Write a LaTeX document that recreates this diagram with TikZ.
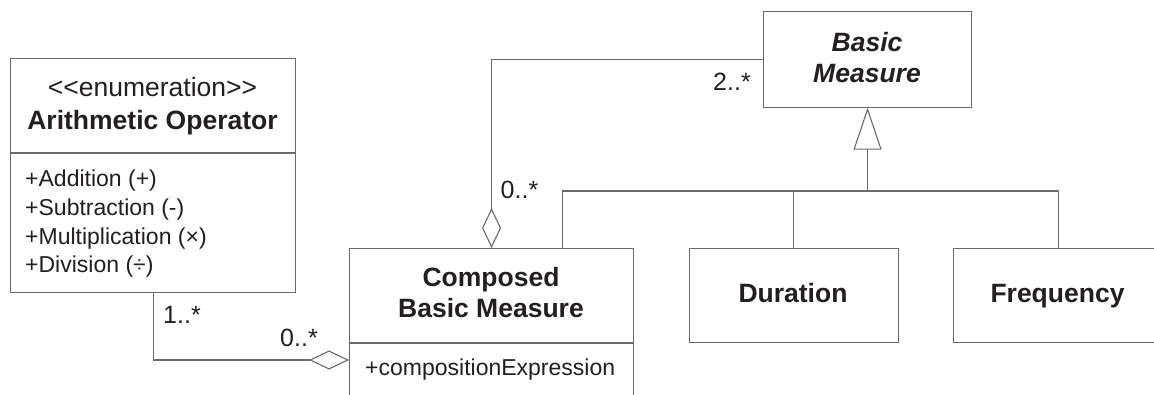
\documentclass[tikz,border=0pt]{standalone}
\usepackage{fontspec}
\setmainfont{Liberation Sans}
\usetikzlibrary{arrows.meta}
\definecolor{linec}{HTML}{6A6A6A}
\definecolor{ink}{HTML}{231F20}
\begin{document}
\begin{tikzpicture}[x=1pt,y=-1pt,
  umlbox/.style={draw=linec,line width=1.1pt,fill=white,rectangle,inner sep=0pt,anchor=north west},
  conn/.style={draw=linec,line width=1.1pt},
  agg/.style={conn,-{Diamond[open,length=40pt,width=19pt]}},
  gen/.style={conn,-{Triangle[open,length=42pt,width=28pt]}},
  txt/.style={inner sep=0pt,text=ink,anchor=base,font=\fontsize{26.5}{32}\selectfont},
  ltxt/.style={inner sep=0pt,text=ink,anchor=base west,font=\fontsize{23}{28}\selectfont},
  btxt/.style={txt,font=\fontsize{26.5}{32}\selectfont\bfseries},
  bitxt/.style={txt,font=\fontsize{26.5}{32}\selectfont\bfseries\itshape},
  mult/.style={inner sep=0pt,text=ink,anchor=base west,font=\fontsize{25}{30}\selectfont}]
\useasboundingbox (0,0) rectangle (1154,394);
\clip (0,0) rectangle (1154,394);
\fill[white] (0,0) rectangle (1154,394);

% enumeration
\node[umlbox,minimum width=285pt,minimum height=234pt] (ao) at (10,58) {};
\draw[conn] (ao.west |- 0,153) -- (ao.east |- 0,153);
\node[txt] (aost) at (152.5,96.5) {<{}<enumeration>{}>};
\node[btxt] (aoname) at (152.5,129) {Arithmetic Operator};
\node[ltxt] (a1) at (25,186.5) {+Addition (+)};
\node[ltxt] (a2) at (25,215.5) {+Subtraction (-)};
\node[ltxt] (a3) at (25,244) {+Multiplication (×)};
\node[ltxt] (a4) at (25,272) {+Division (÷)};

% composed basic measure
\node[umlbox,minimum width=284pt,minimum height=200pt] (comp) at (349,248) {};
\draw[conn] (comp.west |- 0,343) -- (comp.east |- 0,343);
\node[btxt] (c1) at (491,286.5) {Composed};
\node[btxt] (c2) at (491,317) {Basic Measure};
\node[ltxt] (cattr) at (365,375) {+compositionExpression};

% abstract basic measure
\node[umlbox,minimum width=208pt,minimum height=95.5pt] (bm) at (763,11) {};
\node[bitxt] (bm1) at (867,51) {Basic};
\node[bitxt] (bm2) at (867,82) {Measure};

% subclasses
\node[umlbox,minimum width=209pt,minimum height=94pt] (dur) at (688.5,248.3) {};
\node[btxt] (durt) at (793,302) {Duration};
\node[umlbox,minimum width=209pt,minimum height=94pt] (fre) at (953,248.3) {};
\node[btxt] (fret) at (1057.5,302) {Frequency};

% aggregations
\draw[agg] (ao.south) |- ([yshift=-112pt]comp.north west);
\draw[agg] (bm.west) -| (comp.north);
\node[mult] (m1) at (163,323) {1..*};
\node[mult] (m2) at (280,346.5) {0..*};
\node[mult] (m3) at (500.5,198.5) {0..*};
\node[mult] (m4) at (713,90) {2..*};

% generalization tree
\coordinate (gj) at (bm.south |- 0,191);
\draw[gen] (gj) -- (bm.south);
\draw[conn] ([xshift=71pt]comp.north) |- (gj);
\draw[conn] (dur.north) |- (gj);
\draw[conn] (fre.north) |- (gj);
\end{tikzpicture}
\end{document}
